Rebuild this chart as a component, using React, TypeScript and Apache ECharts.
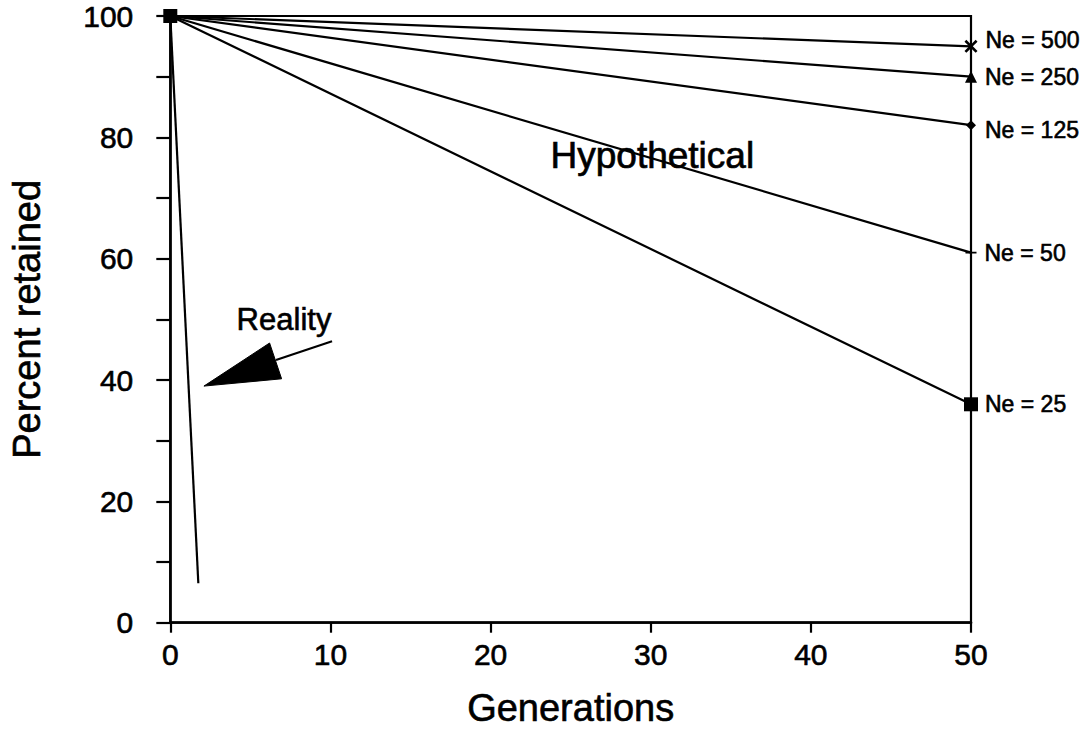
import React, { useEffect, useRef } from "react";
import * as echarts from "echarts";

// ---- data ----
const generations = [0, 50];
const seriesNames = ["Ne = 500", "Ne = 250", "Ne = 125", "Ne = 50", "Ne = 25"];
const ne500 = [100, 95];
const ne250 = [100, 90];
const ne125 = [100, 82];
const ne50 = [100, 61];
const ne25 = [100, 36];
const realityGenerations = [0, 1.75];
const realityValues = [100, 6.5];
const xTicks = [0, 10, 20, 30, 40, 50];
const yTicks = [0, 20, 40, 60, 80, 100];

// annotation anchors in data units
const arrowHead = [
  [2.1, 39.0],
  [6.2, 46.1],
  [6.95, 40.2],
];
const arrowShaft = [
  [6.6, 43.3],
  [10.1, 46.4],
];
const realityLabelAt = [7.1, 50.0];
const hypotheticalLabelAt = [30.1, 77.0];

const FONT = "'Liberation Sans', Arial, Helvetica, sans-serif";
const INK = "#000";
const THICK = { textBorderColor: INK, textBorderWidth: 0.6 };

const X_SYMBOL =
  "path://M0,1.4 L1.4,0 L5,3.6 L8.6,0 L10,1.4 L6.4,5 L10,8.6 L8.6,10 L5,6.4 L1.4,10 L0,8.6 L3.6,5 Z";
const PLUS_SYMBOL =
  "path://M4.3,0 H5.7 V4.3 H10 V5.7 H5.7 V10 H4.3 V5.7 H0 V4.3 H4.3 Z";

const valuesList = [ne500, ne250, ne125, ne50, ne25];
const symbols = [X_SYMBOL, "triangle", "diamond", PLUS_SYMBOL, "rect"];
const symbolSizes = [13, 12, 10, 11, 14];
const labelOffsets = [
  [0, -6],
  [0, 0],
  [0, 5],
  [0, 0],
  [0, 0],
];
const labelDistances = [8, 8, 9, 8, 7];

export default function App() {
  const ref = useRef<HTMLDivElement>(null);

  useEffect(() => {
    if (!ref.current) return;
    const chart = echarts.init(ref.current, undefined, { renderer: "svg" });

    const lineSeries = seriesNames.map((name, i) => ({
      name,
      type: "line",
      data: generations.map((g, j) => [g, valuesList[i][j]]),
      symbol: symbols[i],
      symbolSize: symbolSizes[i],
      showAllSymbol: true,
      clip: false,
      lineStyle: { color: INK, width: 2.2 },
      itemStyle: { color: INK },
      label: {
        show: true,
        position: "right",
        distance: labelDistances[i],
        offset: labelOffsets[i],
        color: INK,
        fontFamily: FONT,
        fontSize: 23,
        ...THICK,
        formatter: (p: any) => (p.dataIndex === generations.length - 1 ? p.seriesName : ""),
      },
      emphasis: { disabled: true },
      z: 3,
    }));

    const option: any = {
      animation: false,
      backgroundColor: "#fff",
      grid: {
        left: 166,
        right: 121,
        top: 16,
        bottom: 107,
        show: true,
        borderColor: INK,
        borderWidth: 2.2,
        backgroundColor: "transparent",
      },
      xAxis: {
        type: "value",
        min: 0,
        max: 50,
        interval: 10,
        name: "Generations",
        nameLocation: "middle",
        nameGap: 66,
        nameTextStyle: { color: INK, fontFamily: FONT, fontSize: 38, ...THICK },
        axisLine: { show: true, onZero: false, lineStyle: { color: INK, width: 2.6 } },
        axisTick: { show: true, length: 10, lineStyle: { color: INK, width: 2.2 } },
        axisLabel: {
          color: INK,
          fontFamily: FONT,
          fontSize: 30,
          margin: 17,
          ...THICK,
          formatter: (v: number) => (xTicks.includes(v) ? String(v) : ""),
        },
        splitLine: { show: false },
      },
      yAxis: {
        type: "value",
        min: 0,
        max: 100,
        interval: 10,
        name: "Percent retained",
        nameLocation: "middle",
        nameGap: 124,
        nameTextStyle: { color: INK, fontFamily: FONT, fontSize: 38, ...THICK },
        axisLine: { show: true, onZero: false, lineStyle: { color: INK, width: 2.6 } },
        axisTick: { show: true, length: 14, lineStyle: { color: INK, width: 2.2 } },
        axisLabel: {
          color: INK,
          fontFamily: FONT,
          fontSize: 30,
          margin: 37,
          ...THICK,
          formatter: (v: number) => (yTicks.includes(v) ? String(v) : ""),
        },
        splitLine: { show: false },
      },
      series: [
        ...lineSeries,
        {
          name: "Reality",
          type: "line",
          data: realityGenerations.map((g, j) => [g, realityValues[j]]),
          symbol: "none",
          clip: false,
          lineStyle: { color: INK, width: 2.2 },
          emphasis: { disabled: true },
          z: 2,
        },
      ],
    };

    chart.setOption(option);

    const px = (p: number[]) => chart.convertToPixel({ gridIndex: 0 }, p) as number[];
    const head = arrowHead.map(px);
    const shaft = arrowShaft.map(px);
    const rl = px(realityLabelAt);
    const hl = px(hypotheticalLabelAt);

    chart.setOption({
      graphic: [
        {
          type: "polygon",
          shape: { points: head },
          style: { fill: INK, stroke: INK, lineWidth: 1 },
          z: 10,
        },
        {
          type: "line",
          shape: { x1: shaft[0][0], y1: shaft[0][1], x2: shaft[1][0], y2: shaft[1][1] },
          style: { stroke: INK, lineWidth: 2.2 },
          z: 10,
        },
        {
          type: "text",
          x: rl[0],
          y: rl[1],
          style: {
            text: "Reality",
            fill: INK,
            stroke: INK,
            lineWidth: 0.6,
            font: `31px ${FONT}`,
            textAlign: "center",
            textVerticalAlign: "middle",
          },
          z: 10,
        },
        {
          type: "text",
          x: hl[0],
          y: hl[1],
          style: {
            text: "Hypothetical",
            fill: INK,
            stroke: INK,
            lineWidth: 0.7,
            font: `37px ${FONT}`,
            textAlign: "center",
            textVerticalAlign: "middle",
          },
          z: 10,
        },
      ],
    });

    return () => chart.dispose();
  }, []);

  return (
    <div
      ref={ref}
      style={{ position: "fixed", left: 0, top: 0, width: 1092, height: 732, background: "#fff" }}
    />
  );
}
